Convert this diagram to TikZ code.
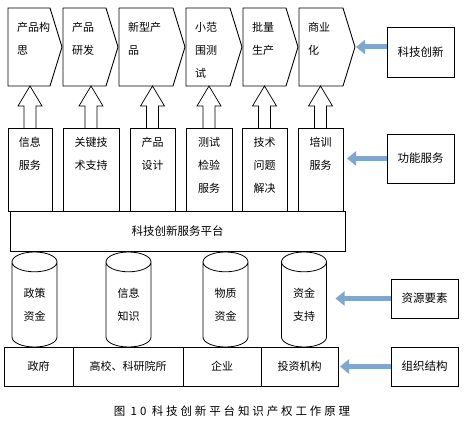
\documentclass[tikz,border=0pt]{standalone}
\usepackage{fontspec}
\setmainfont{Noto Sans CJK SC}
\usetikzlibrary{positioning,arrows.meta,shapes.geometric,calc}
\definecolor{arrfill}{HTML}{7EA6CF}

\begin{document}
\begin{tikzpicture}[x=1pt, y=1pt,
  every node/.style={font=\fontsize{11}{23}\selectfont, inner sep=0pt, outer sep=0pt},
  chev/.style={minimum height=78pt, anchor=west},
  ctxt/.style={anchor=north west, align=left},
  svc/.style={draw, line width=.9pt, minimum height=83pt, anchor=south west},
  stxt/.style={anchor=north, align=center},
  box/.style={draw, line width=.9pt, minimum width=67pt, font=\fontsize{11.5}{14}\selectfont},
  cyl/.style={draw, line width=.8pt, cylinder, shape border rotate=90, aspect=0.9,
              minimum width=45pt, minimum height=95pt, align=center, anchor=south},
  cell/.style={draw, line width=.9pt, minimum height=39pt, anchor=west},
  upblk/.style={draw, line width=.7pt},
  bigarr/.style={line width=5pt, draw=arrfill, -{Triangle[length=9pt,width=14pt]}}
]
\useasboundingbox (0,0) rectangle (469,421);

% value chain
\node[chev, minimum width=54pt] (c1) at (8,374) {};
\node[chev, minimum width=55pt, right=1pt of c1] (c2) {};
\node[chev, minimum width=66pt, right=1pt of c2] (c3) {};
\node[chev, minimum width=56pt, right=1pt of c3] (c4) {};
\node[chev, minimum width=55pt, right=1pt of c4] (c5) {};
\node[chev, minimum width=56pt, right=1pt of c5] (c6) {};
\foreach \n in {1,...,6}
  \draw[line width=.9pt] (c\n.north west) -- ([xshift=-12pt]c\n.north east) -- (c\n.east)
    -- ([xshift=-12pt]c\n.south east) -- (c\n.south west) -- cycle;
\foreach \n/\t in {1/{产品构\\思}, 2/{产品\\研发}, 3/{新型产\\品}, 4/{小范\\围测\\试}, 5/{批量\\生产}, 6/{商业\\化}}
  \node[ctxt] (ct\n) at ([xshift=9pt,yshift=-14pt]c\n.north west) {\t};

% services
\node[svc, minimum width=44pt] (s1) at (8,210) {};
\node[svc, minimum width=56pt, right=11pt of s1] (s2) {};
\node[svc, minimum width=45pt, right=11pt of s2] (s3) {};
\node[svc, minimum width=46pt, right=11pt of s3] (s4) {};
\node[svc, minimum width=45pt, right=10pt of s4] (s5) {};
\node[svc, minimum width=45pt, right=11pt of s5] (s6) {};
\foreach \n/\t in {1/{信息\\服务}, 2/{关键技\\术支持}, 3/{产品\\设计}, 4/{测试\\检验\\服务}, 5/{技术\\问题\\解决}, 6/{培训\\服务}}
  \node[stxt] (st\n) at ([yshift=-9pt]s\n.north) {\t};
\foreach \n in {1,...,6}
  \draw[upblk] ($(s\n.north)+(-6,0)$) -- ++(0,22) -- ++(-6,0) -- (s\n.north |- c1.south)
    -- ($(s\n.north)+(12,22)$) -- ++(-6,0) -- ($(s\n.north)+(6,0)$);

% platform
\node[draw, line width=.9pt, minimum width=335pt, minimum height=40pt, anchor=north west,
      font=\fontsize{11.5}{14}\selectfont] (plat) at (10,210) {科技创新服务平台};

% resources
\node[cyl] (cy1) at (34.5,74) {政策\\资金};
\node[cyl] (cy2) at (128.5,74) {信息\\知识};
\node[cyl] (cy3) at (225.5,74) {物质\\资金};
\node[cyl] (cy4) at (304,74) {资金\\支持};

% organisations
\node[cell, minimum width=69pt] (b1) at (4,54.5) {政府};
\node[cell, minimum width=110pt, right=0pt of b1] (b2) {高校、科研院所};
\node[cell, minimum width=78pt, right=0pt of b2] (b3) {企业};
\node[cell, minimum width=77pt, right=0pt of b3] (b4) {投资机构};

% side labels
\node[box, minimum height=50pt] (kjcx) at (420.5,369) {科技创新};
\node[box, minimum height=49pt] (gnfw) at (420.5,262.5) {功能服务};
\node[box, minimum height=39pt] (zyys) at (424.5,122.5) {资源要素};
\node[box, minimum height=39pt] (zzjg) at (424.5,54.5) {组织结构};
\draw[bigarr, shorten >=1pt] (c6.east -| kjcx.west) -- (c6.east);
\draw[bigarr, shorten >=4pt] (gnfw) -- (gnfw -| s6.east);
\draw[bigarr, shorten >=9pt] (zyys) -- (zyys -| cy4.east);
\draw[bigarr, shorten >=2pt] (zzjg) -- (zzjg -| b4.east);

\node[font=\fontsize{11.5}{13}\selectfont] (cap) at (232,10) {\addfontfeature{LetterSpace=25}图 10 科技创新平台知识产权工作原理};
\end{tikzpicture}
\end{document}
